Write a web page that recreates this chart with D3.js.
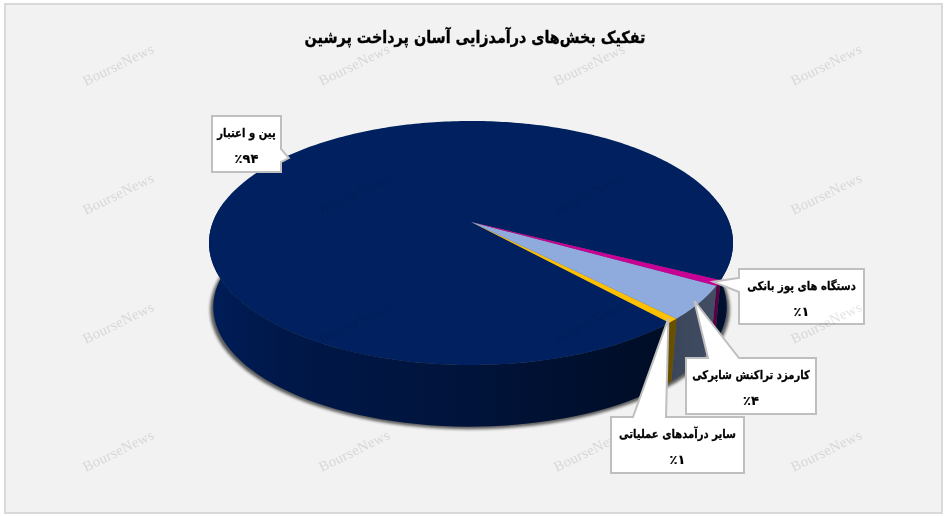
<!DOCTYPE html>
<html lang="fa">
<head>
<meta charset="utf-8">
<script src="https://cdn.jsdelivr.net/npm/d3@7"></script>
<style>
html,body{margin:0;padding:0;background:#fff;}
svg{display:block;}
text{font-family:"DejaVu Sans",sans-serif;font-weight:bold;fill:#000;stroke:#000;}
.wm{font-family:"Liberation Serif",serif;font-weight:normal;font-size:14.5px;letter-spacing:.3px;fill:#e4e4e4;stroke:none;mix-blend-mode:multiply;}
</style>
</head>
<body>
<svg id="c" width="946" height="516" viewBox="0 0 946 516"></svg>
<script>
// ---- data (clockwise from the magenta slice)
const categories = ["دستگاه های پوز بانکی", "کارمزد تراکنش شاپرکی", "سایر درآمدهای عملیاتی", "پین و اعتبار"];
const values     = [0.7, 4.5, 0.6, 94.2];
const valueTexts = ["٪۱", "٪۴", "٪۱", "٪۹۴"];
const topColors  = ["#c80096", "#8faadc", "#ffc000", "#002060"];
const titleText  = "تفکیک بخش‌های درآمدزایی آسان پرداخت پرشین";
const watermark  = "BourseNews";
const wmCols = [119, 355, 590, 827];
const wmRows = [66, 195, 324, 452];

// ---- callout layout [x, y, w, h], tail base as [a, b] along the given side
const callouts = [
  {box:[739,269,125,55], side:"left",  base:[278,292]},
  {box:[686,358,130,56], side:"top",   base:[708,739]},
  {box:[611,417,133,56], side:"top",   base:[633,666]},
  {box:[212,116,69,56],  side:"right", base:[149,162]}
];

// ---- projection of the tilted disc
const apex = {x:471, y:222}, p = 0.172, a = 118.4, b = 258.1;
const lowerDisc = {x:470, y:286.5, s:0.98};
const disc = (ang, r=1) => {
  const X = r*Math.sin(ang), Y = -r*Math.cos(ang), d = 1 - p*Y;
  return {x: b*X/d, y: a*Y/d};
};
const topPt = (ang, r=1) => { const q = disc(ang, r); return [apex.x+q.x, apex.y+q.y]; };
const lowPt = (ang, r=1) => { const q = disc(ang, r); return [lowerDisc.x+lowerDisc.s*q.x, lowerDisc.y+lowerDisc.s*q.y]; };

const deg = Math.PI/180;
const startAng = 117*deg;               // 27° clockwise below east
const arcs = d3.pie().sort(null).value(d=>d).startAngle(startAng).endAngle(startAng+2*Math.PI)(values);

// wall shading by position round the rim (degrees from east, clockwise), mapped to x
const shadeAngles = [170,130,90,50,27,10];
const shadeValues = [.92,.76,.6,.4,.46,.72];

const svg = d3.select("#c");
const defs = svg.append("defs");
defs.append("filter").attr("id","blur").attr("x","-10%").attr("y","-10%").attr("width","120%").attr("height","120%")
  .append("feGaussianBlur").attr("stdDeviation",1.8);

const xMin = topPt(170*deg+90*deg)[0], xMax = topPt(10*deg+90*deg)[0];
topColors.forEach((col,i)=>{
  const g = defs.append("linearGradient").attr("id","wall"+i).attr("gradientUnits","userSpaceOnUse")
     .attr("x1",xMin).attr("x2",xMax).attr("y1",0).attr("y2",0);
  const c = d3.rgb(col);
  shadeAngles.forEach((t,k)=>{
    const f = shadeValues[k], px = topPt((t+90)*deg)[0];
    g.append("stop").attr("offset",(px-xMin)/(xMax-xMin))
     .attr("stop-color",d3.rgb(c.r*f,c.g*f,c.b*f).formatHex());
  });
});

const pathOf = d3.line();

// panel
svg.append("rect").attr("x",5).attr("y",4).attr("width",937).attr("height",509)
   .attr("fill","#f2f2f2").attr("stroke","#d9d9d9").attr("stroke-width",2);

// soft shadow
const ring = d3.range(0,361,3).map(d=>d*deg);
svg.append("path")
   .attr("d", pathOf(ring.map(t=>{const q=lowPt(t);return [q[0]+(q[0]-lowerDisc.x)*0.012, q[1]+2.5];}))+"Z")
   .attr("fill","#000").attr("opacity",.62).attr("filter","url(#blur)");

// walls: one path per slice per visible stretch of the rim
const wallG = svg.append("g");
arcs.forEach((d,i)=>{
  [[-10,190],[350,550]].forEach(([lo,hi])=>{
    const t0 = Math.max(d.startAngle, (lo+90)*deg), t1 = Math.min(d.endAngle, (hi+90)*deg);
    if (t1 <= t0) return;
    const sc = d3.scaleLinear().domain([0,60]).range([t0,t1]);
    const ts = d3.range(61).map(sc);
    const pts = ts.map(t=>topPt(t)).concat(ts.slice().reverse().map(t=>lowPt(t)));
    wallG.append("path").attr("d",pathOf(pts)+"Z").attr("fill",`url(#wall${i})`);
  });
});

// top faces
const faceG = svg.append("g");
arcs.slice().reverse().forEach(d=>{
  const i = arcs.indexOf(d);
  const n = Math.max(2, Math.ceil((d.endAngle-d.startAngle)/(1*deg)));
  const sc = d3.scaleLinear().domain([0,n]).range([d.startAngle,d.endAngle]);
  const pts = [[apex.x,apex.y]].concat(d3.range(n+1).map(k=>topPt(sc(k))));
  faceG.append("path").attr("d",pathOf(pts)+"Z").attr("fill",topColors[i]);
});

// title
svg.append("text").attr("transform","translate(475,43) scale(.87,1)").attr("text-anchor","middle").attr("direction","rtl")
   .style("font-size","16.5px").style("stroke-width",".35px").text(titleText);

function drawCallout(i){
  const c = callouts[i];
  const [x,y,w,h] = c.box;
  const mid = (arcs[i].startAngle+arcs[i].endAngle)/2;
  const tip = topPt(mid, 0.98);
  let pts;
  if (c.side==="left")  pts=[[x,y],[x+w,y],[x+w,y+h],[x,y+h],[x,c.base[1]],tip,[x,c.base[0]]];
  if (c.side==="right") pts=[[x,y],[x+w,y],[x+w,c.base[0]],tip,[x+w,c.base[1]],[x+w,y+h],[x,y+h]];
  if (c.side==="top")   pts=[[x,y],[c.base[0],y],tip,[c.base[1],y],[x+w,y],[x+w,y+h],[x,y+h]];
  svg.append("path").attr("d",pathOf(pts)+"Z").attr("fill","#fff").attr("stroke","#bfbfbf").attr("stroke-width",2).attr("stroke-linejoin","miter");
  svg.append("text").attr("transform",`translate(${x+w/2},${y+21}) scale(.84,1)`).attr("text-anchor","middle").attr("direction","rtl")
     .style("font-size","12px").style("stroke-width",".25px").text(categories[i]);
  svg.append("text").attr("transform",`translate(${x+w/2},${y+47})`).attr("text-anchor","middle").attr("direction","rtl")
     .style("font-size","13px").style("stroke-width",".2px").text(valueTexts[i]);
}

drawCallout(0);

// watermarks
wmRows.forEach(y=>wmCols.forEach(x=>{
  svg.append("text").attr("class","wm")
     .attr("transform",`translate(${x},${y}) rotate(-26)`)
     .attr("text-anchor","middle").attr("dominant-baseline","middle")
     .text(watermark);
}));

[1,2,3].forEach(drawCallout);
</script>
</body>
</html>
